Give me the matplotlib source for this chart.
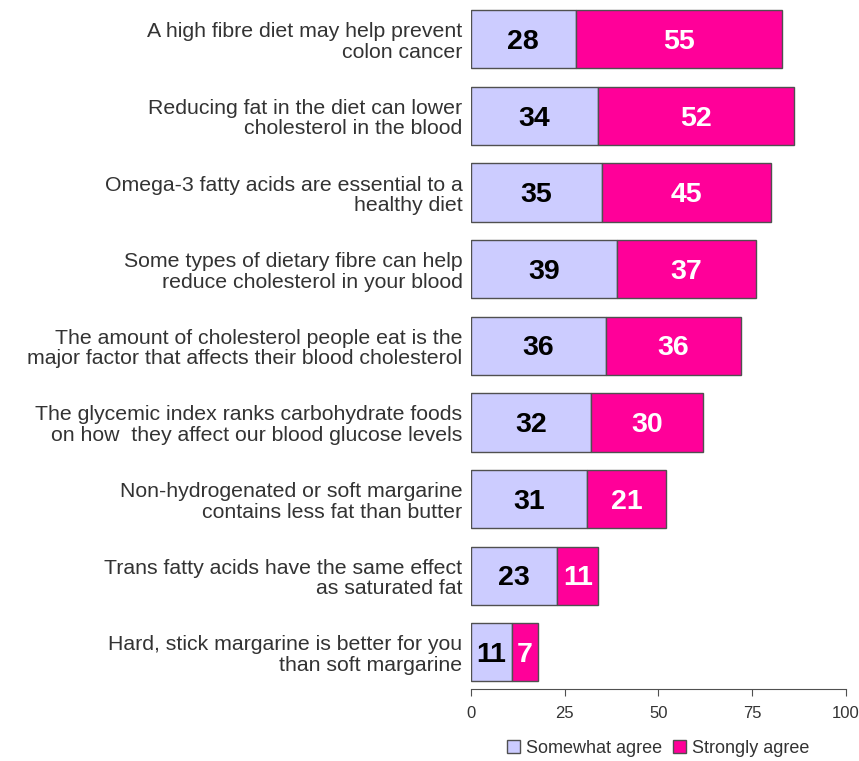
import matplotlib
matplotlib.use("Agg")
import matplotlib.pyplot as plt
from matplotlib.patches import Patch

plt.rcParams['font.family'] = ['Liberation Sans', 'DejaVu Sans']

categories = [
    "A high fibre diet may help prevent\ncolon cancer",
    "Reducing fat in the diet can lower\ncholesterol in the blood",
    "Omega-3 fatty acids are essential to a\nhealthy diet",
    "Some types of dietary fibre can help\nreduce cholesterol in your blood",
    "The amount of cholesterol people eat is the\nmajor factor that affects their blood cholesterol",
    "The glycemic index ranks carbohydrate foods\non how  they affect our blood glucose levels",
    "Non-hydrogenated or soft margarine\ncontains less fat than butter",
    "Trans fatty acids have the same effect\nas saturated fat",
    "Hard, stick margarine is better for you\nthan soft margarine",
]
somewhat = [28, 34, 35, 39, 36, 32, 31, 23, 11]
strongly = [55, 52, 45, 37, 36, 30, 21, 11, 7]
series_names = ["Somewhat agree", "Strongly agree"]
xticks = [0, 25, 50, 75, 100]

c1 = "#CCCCFF"
c2 = "#FF0099"
edge = "#505050"

fig = plt.figure(figsize=(8.59, 7.61), dpi=100)
ax = fig.add_axes([0.548, 0.0946, 0.437, 0.904])

n = len(categories)
ys = [n - 1 - i for i in range(n)]
h = 0.76
ax.barh(ys, somewhat, height=h, color=c1, edgecolor=edge, linewidth=1.0)
ax.barh(ys, strongly, left=somewhat, height=h, color=c2, edgecolor=edge, linewidth=1.0)

for y, a, b in zip(ys, somewhat, strongly):
    ax.text(a / 2, y - 0.035, str(a), ha='center', va='center', fontsize=20.5,
            fontweight='bold', color='black')
    ax.text(a + b / 2, y - 0.035, str(b), ha='center', va='center', fontsize=20.5,
            fontweight='bold', color='white')

ax.set_xlim(0, 100)
ax.set_ylim(-0.48, n - 0.5)
ax.set_xticks(xticks)
ax.set_xticklabels([str(t) for t in xticks], fontsize=12, color='#333333')
ax.set_yticks(ys)
ax.set_yticklabels(categories, fontsize=15.3, color='#333333', linespacing=1.1)
ax.tick_params(axis='y', length=0, pad=6)
ax.tick_params(axis='x', length=5, color=edge, pad=7)
for s in ['top', 'right', 'left']:
    ax.spines[s].set_visible(False)
ax.spines['bottom'].set_color(edge)

handles = [Patch(facecolor=c1, edgecolor=edge, label=series_names[0]),
           Patch(facecolor=c2, edgecolor=edge, label=series_names[1])]
fig.legend(handles=handles, loc='center', bbox_to_anchor=(0.766, 0.017),
           ncol=2, frameon=False, fontsize=13, handlelength=0.75,
           handleheight=0.75, handletextpad=0.3, columnspacing=0.6,
           labelcolor='#333333')

fig.savefig("out.png", dpi=100)
